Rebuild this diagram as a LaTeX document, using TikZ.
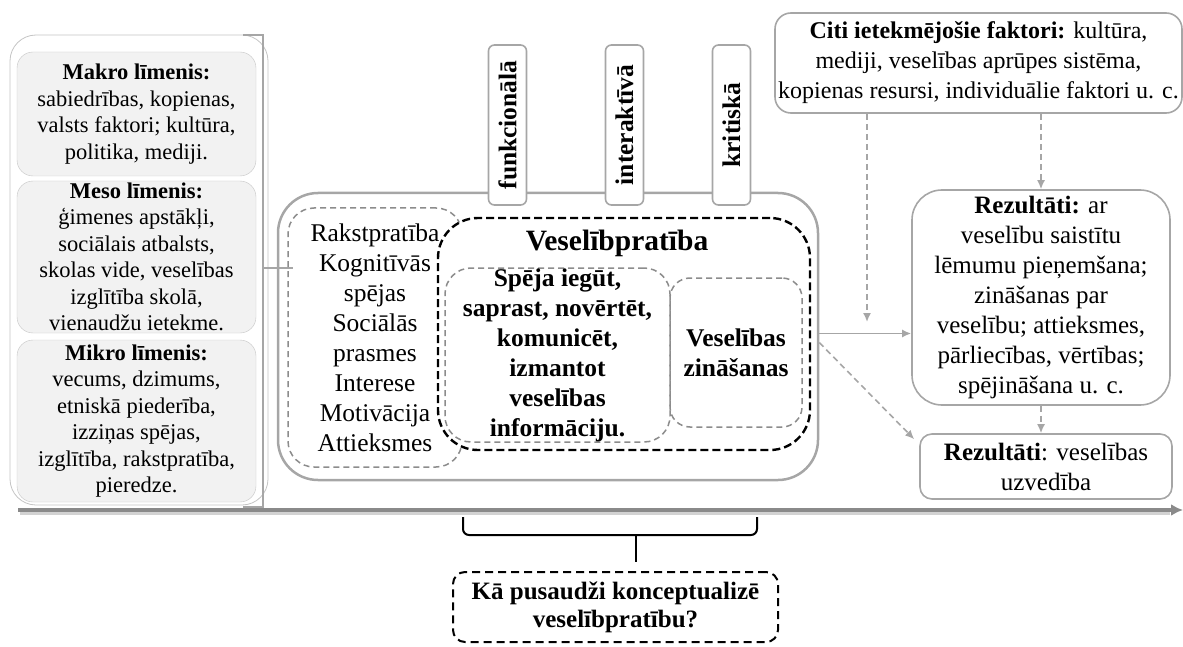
\documentclass[tikz,border=0pt]{standalone}
\usepackage{fontspec}
\setmainfont{Liberation Serif}
\usetikzlibrary{arrows.meta, calc}

\definecolor{linegray}{HTML}{A6A6A6}
\definecolor{thingray}{HTML}{C4C4C4}
\definecolor{dashgray}{HTML}{8C8C8C}
\definecolor{boxfill}{HTML}{F2F2F2}
\definecolor{axisgray}{HTML}{8A8A8A}

\begin{document}
\begin{tikzpicture}[
    x=1pt, y=-1pt, % pixel-like coordinates, y grows downwards
    >=Latex, % Set default arrow tip style
    levelbox/.style={draw=thingray, fill=boxfill, rounded corners=16pt, inner sep=0pt,
        align=center, font=\fontsize{22.5}{26.5}\selectfont}, % Makro/Meso/Mikro
    mainbox/.style={draw=linegray, line width=2.5pt, rounded corners=40pt, inner sep=0pt},
    tabbox/.style={draw=linegray, line width=1.6pt, fill=white, rounded corners=6pt, inner sep=0pt,
        rotate=90, minimum width=160pt, minimum height=38pt, font=\fontsize{25.5}{30}\selectfont\bfseries},
    graydash/.style={draw=dashgray, line width=1.5pt, dash pattern=on 6pt off 4pt,
        rounded corners=26pt, inner sep=0pt, align=center, font=\fontsize{25.5}{30}\selectfont},
    blackdash/.style={draw=black, line width=2.4pt, dash pattern=on 8pt off 4pt,
        rounded corners=40pt, fill=white, inner sep=0pt},
    outbox/.style={draw=linegray, line width=1.6pt, rounded corners=16pt, inner sep=0pt,
        align=center, font=\fontsize{24}{30}\selectfont},
    grayarrow/.style={draw=linegray, line width=1.6pt, -{Latex[length=9pt,width=8pt]}},
    dasharrow/.style={grayarrow, dash pattern=on 6pt off 4pt}
]
    \useasboundingbox (0,0) rectangle (1183,647);

    % --- Left column: levels of influence ---
    \draw[thingray, line width=0.8pt, rounded corners=26pt] (10,35) rectangle (268,505);
    \node[levelbox, minimum width=239pt, minimum height=124pt] (makro) at (136.5,114)
        {\textbf{Makro līmenis:}\\sabiedrības, kopienas,\\valsts faktori; kultūra,\\politika, mediji.};
    \node[levelbox, minimum width=239pt, minimum height=152pt] (meso) at (136.5,257)
        {\textbf{Meso līmenis:}\\ģimenes apstākļi,\\sociālais atbalsts,\\skolas vide, veselības\\izglītība skolā,\\vienaudžu ietekme.};
    \node[levelbox, minimum width=239pt, minimum height=162pt] (mikro) at (136.5,421)
        {\textbf{Mikro līmenis:}\\vecums, dzimums,\\etniskā piederība,\\izziņas spējas,\\izglītība, rakstpratība,\\pieredze.};

    % --- Main box with the three tabs ---
    \node[mainbox, minimum width=540pt, minimum height=287pt] (main) at (548,336.5) {};
    \foreach \name/\xpos/\label in {funk/507.5/funkcionālā, inter/624.5/interaktīvā, krit/731.5/kritiskā} {
        \node[tabbox] (\name) at (\xpos,125) {\label};
    }

    % Bracket joining the levels to the main box
    \draw[linegray, line width=2.2pt] (243,35) -- (263,35) -- (263,507) -- (243,507);
    \draw[linegray, line width=2.2pt] (263,268) -- (293,268);

    % Personal factors, health literacy and its parts
    \node[graydash, minimum width=174pt, minimum height=259pt] (pers) at (375,337.5)
        {Rakstpratība\\Kognitīvās\\spējas\\Sociālās\\prasmes\\Interese\\Motivācija\\Attieksmes};
    \node[blackdash, minimum width=372pt, minimum height=232pt] (vpr) at (624,334) {};
    \node[font=\fontsize{29.5}{34}\selectfont\bfseries] (vprtitle) at (617,243) {Veselībpratība};
    \node[graydash, font=\fontsize{25.5}{30}\selectfont\bfseries, minimum width=225pt, minimum height=174pt]
        (abil) at (557.5,355) {Spēja iegūt,\\saprast, novērtēt,\\komunicēt,\\izmantot\\veselības\\informāciju.};
    \node[graydash, font=\fontsize{25.5}{30}\selectfont\bfseries, rounded corners=20pt,
        minimum width=132pt, minimum height=149pt] (know) at (736,352.5) {Veselības\\zināšanas};

    % --- Right column: other factors and outcomes ---
    \node[outbox, minimum width=407pt, minimum height=100pt] (citi) at (978.5,63)
        {\textbf{Citi ietekmējošie faktori:} kultūra,\\mediji, veselības aprūpes sistēma,\\kopienas resursi, individuālie faktori u. c.};
    \node[outbox, font=\fontsize{25}{30}\selectfont, rounded corners=30pt,
        minimum width=258pt, minimum height=215pt] (res) at (1041,297.5)
        {\textbf{Rezultāti:} ar\\veselību saistītu\\lēmumu pieņemšana;\\zināšanas par\\veselību; attieksmes,\\pārliecības, vērtības;\\spējināšana u. c.};
    \node[outbox, font=\fontsize{25}{30}\selectfont, rounded corners=12pt,
        minimum width=252pt, minimum height=65pt] (uzv) at (1046,466.5)
        {\textbf{Rezultāti}: veselības\\uzvedība};

    % Connectors
    \coordinate (infl) at (867,322);
    \draw[grayarrow] ([yshift=3pt]main.east) -- ([yshift=3pt]main.east -| res.west);
    \draw[dasharrow] ([yshift=-6pt]main.east) -- ([xshift=-5pt,yshift=-6pt]uzv.north west);
    \draw[dasharrow] (citi.south -| infl) -- (infl);
    \draw[dasharrow] (citi.south -| res.north) -- (res.north);
    \draw[dasharrow] (res.south) -- (res.south |- uzv.north);

    % --- Time axis ---
    \draw[gray!35, line width=4pt] (20,513) -- (1170,513);
    \draw[axisgray, line width=4pt, -{Latex[length=12pt,width=12pt]}] (18,510) -- (1183,510);

    % --- Question and brace ---
    \node[draw, line width=2pt, dash pattern=on 8pt off 5pt, rounded corners=12pt, inner sep=0pt,
        minimum width=325pt, minimum height=70pt, align=center,
        font=\fontsize{25}{28}\selectfont\bfseries] (quest) at (615.5,607)
        {Kā pusaudži konceptualizē\\veselībpratību?};
    \draw[line width=2pt, rounded corners=6pt] (463,517) |- (636,535);
    \draw[line width=2pt, rounded corners=6pt] (757,517) |- (636,535);
    \draw[line width=2pt] (636,535) -- ([yshift=9pt]quest.north -| 636,0);
\end{tikzpicture}
\end{document}
